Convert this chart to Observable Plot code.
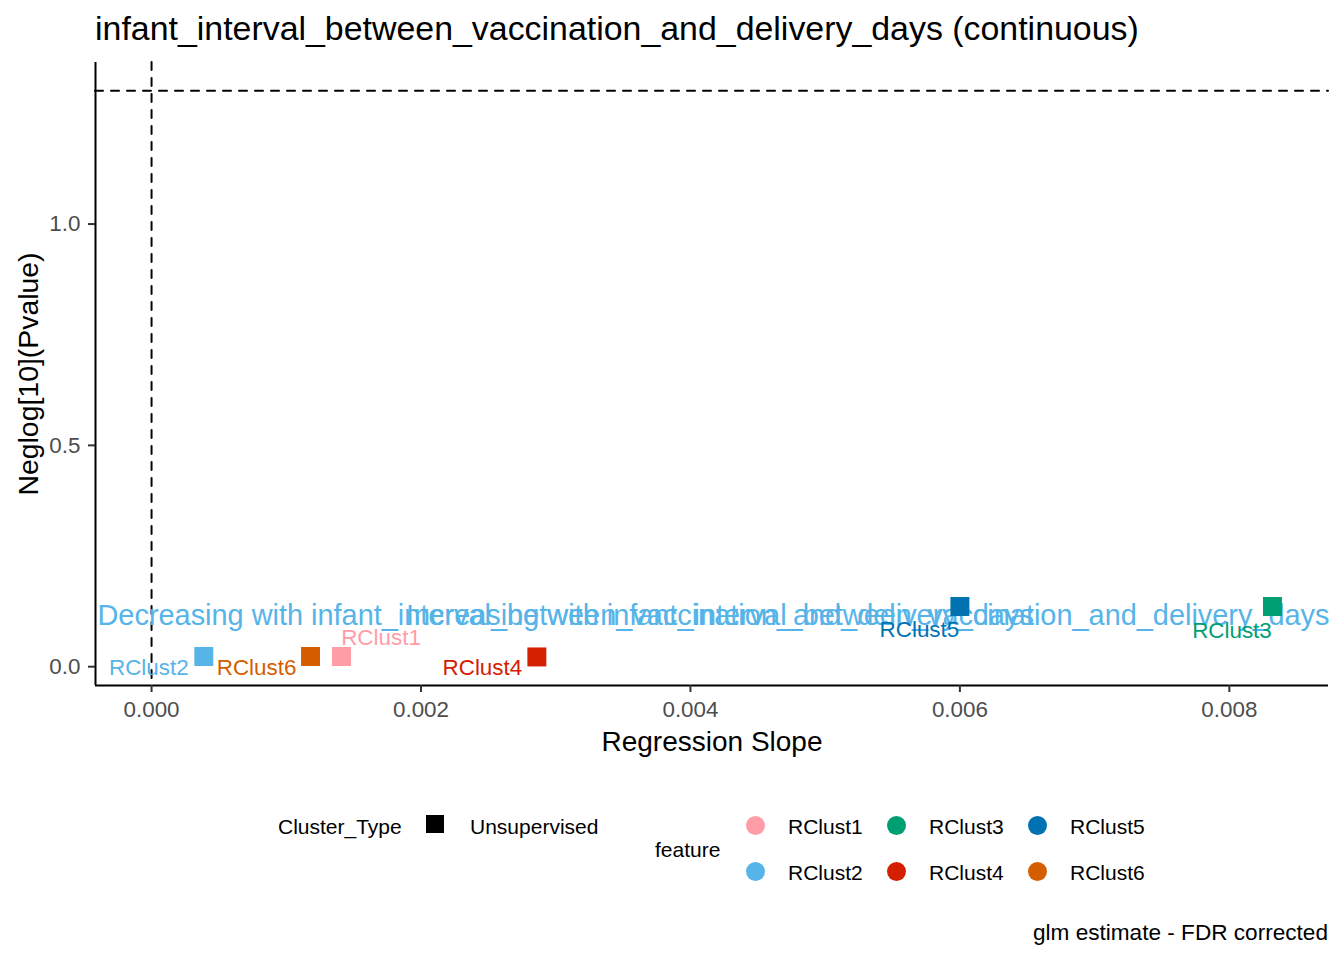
<!DOCTYPE html>
<html>
<head>
<meta charset="utf-8">
<script src="https://cdn.jsdelivr.net/npm/d3@7"></script>
<script src="https://cdn.jsdelivr.net/npm/@observablehq/plot@0.6"></script>
<style>
  html, body { margin: 0; padding: 0; background: #ffffff; }
  body { width: 1344px; height: 960px; position: relative; overflow: hidden;
         font-family: "Liberation Sans", Arial, sans-serif; color: #000; }
  .t { position: absolute; line-height: 1; white-space: nowrap; transform: translateY(-50%); }
  #chart { position: absolute; left: 0; top: 62px; }
  .sw { position: absolute; }
</style>
</head>
<body>
<div id="title" class="t" style="left:95px; top:29px; font-size:33.9px;"></div>
<div id="chart"></div>
<div id="legend"></div>
<div id="caption" class="t" style="right:16px; top:933px; font-size:22.6px;"></div>
<script>
// ---- data ----
const titleText = "infant_interval_between_vaccination_and_delivery_days (continuous)";
const xLabel = "Regression Slope";
const yLabel = "Neglog[10](Pvalue)";
const captionText = "glm estimate - FDR corrected";

const features = ["RClust1", "RClust2", "RClust3", "RClust4", "RClust5", "RClust6"];
const slopes = [0.00141, 0.000388, 0.00832, 0.00286, 0.00600, 0.00118];
const neglogP = [0.023, 0.023, 0.136, 0.022, 0.136, 0.023];
const featureColors = ["#FF9DA7", "#56B4E9", "#009E73", "#D42000", "#0072B2", "#D55E00"];

const clusterTypeTitle = "Cluster_Type";
const clusterTypes = ["Unsupervised"];
const featureLegendTitle = "feature";

const xTicks = [0, 0.002, 0.004, 0.006, 0.008];
const yTicks = [0, 0.5, 1.0];
const xDomain = [-0.000416, 0.008736];
const yDomain = [-0.0425, 1.365];

const vlineX = [0];
const hlineY = [-Math.log10(0.05)];

const directionLabels = [
  "Decreasing with infant_interval_between_vaccination_and_delivery_days",
  "Increasing with infant_interval_between_vaccination_and_delivery_days"
];
const directionLabelY = [0.114, 0.114];

// label offsets (repel-style placement, pixels)
const labelDx = { RClust1: 39.5, RClust2: -55, RClust3: -40.5, RClust4: -54.5, RClust5: -40.5, RClust6: -54 };
const labelDy = { RClust1: -18.5, RClust2: 11, RClust3: 24, RClust4: 11, RClust5: 23.5, RClust6: 11 };

// ---- build table ----
const rows = features.map((f, i) => ({ feature: f, slope: slopes[i], p: neglogP[i], type: clusterTypes[0] }));
const annRows = directionLabels.map((t, i) => ({ text: t, y: directionLabelY[i] }));

const FONT = "'Liberation Sans', Arial, sans-serif";

const labelMarks = rows.map(r => Plot.text([r], {
  x: "slope", y: "p", text: "feature", fill: "feature",
  dx: labelDx[r.feature], dy: labelDy[r.feature],
  fontSize: 22.4, textAnchor: "middle"
}));

const chart = Plot.plot({
  width: 1344,
  height: 708,
  marginTop: 0,
  marginBottom: 85,
  marginLeft: 95,
  marginRight: 16,
  style: { fontFamily: FONT, background: "#ffffff", overflow: "visible" },
  x: { domain: xDomain, label: null },
  y: { domain: yDomain, label: null },
  color: { domain: features, range: featureColors },
  marks: [
    Plot.ruleX(vlineX, { stroke: "#000", strokeWidth: 2, strokeDasharray: "8,8", strokeLinecap: "round" }),
    Plot.ruleY(hlineY, { stroke: "#000", strokeWidth: 2, strokeDasharray: "8,8", strokeLinecap: "round" }),
    Plot.text(annRows.slice(0, 1), { y: "y", text: "text", frameAnchor: "left", textAnchor: "start", dx: 2, fill: featureColors[1], fontSize: 28.9 }),
    Plot.text(annRows.slice(1, 2), { y: "y", text: "text", frameAnchor: "right", textAnchor: "end", dx: 1, fill: featureColors[1], fontSize: 28.9 }),
    Plot.dot(rows, { x: "slope", y: "p", fill: "feature", symbol: "square", r: 10.7, stroke: "none" }),
    ...labelMarks,
    Plot.ruleX([xDomain[0]], { stroke: "#000", strokeWidth: 2 }),
    Plot.ruleY([yDomain[0]], { stroke: "#000", strokeWidth: 2 }),
    Plot.axisX({ ticks: xTicks, tickFormat: d3.format(".3f"), tickSize: 7, tickPadding: 9, fontSize: 22.4, stroke: "#333333", fill: "#4D4D4D", strokeWidth: 2, label: null }),
    Plot.axisY({ ticks: yTicks, tickFormat: d3.format(".1f"), tickSize: 7, tickPadding: 8, fontSize: 22.4, stroke: "#333333", fill: "#4D4D4D", strokeWidth: 2, label: null }),
    Plot.text([xLabel], { frameAnchor: "bottom", textAnchor: "middle", dy: 65, fontSize: 28, fill: "#000" }),
    Plot.text([yLabel], { frameAnchor: "left", textAnchor: "middle", dx: -67, rotate: -90, fontSize: 28.4, fill: "#000" })
  ]
});
document.getElementById("chart").appendChild(chart);

document.getElementById("title").textContent = titleText;
document.getElementById("caption").textContent = captionText;

// ---- legend (HTML, built from the arrays) ----
const legend = document.getElementById("legend");
function addText(txt, left, cy, size) {
  const d = document.createElement("div");
  d.className = "t";
  d.style.left = left + "px";
  d.style.top = cy + "px";
  d.style.fontSize = size + "px";
  d.textContent = txt;
  legend.appendChild(d);
}
function addSwatch(cx, cy, size, color, round) {
  const d = document.createElement("div");
  d.className = "sw";
  d.style.left = (cx - size / 2) + "px";
  d.style.top = (cy - size / 2) + "px";
  d.style.width = size + "px";
  d.style.height = size + "px";
  d.style.background = color;
  if (round) d.style.borderRadius = "50%";
  legend.appendChild(d);
}
addText(clusterTypeTitle, 278, 826, 21);
clusterTypes.forEach((t, i) => {
  addSwatch(435, 824, 18, "#000", false);
  addText(t, 470, 826, 21);
});
addText(featureLegendTitle, 655, 849, 21);
const colX = [755, 896, 1037];
const rowY = [825, 871];
features.forEach((f, i) => {
  const c = Math.floor(i / 2), r = i % 2;
  addSwatch(colX[c], rowY[r], 19, featureColors[i], true);
  addText(f, colX[c] + 33, rowY[r] + 1, 21);
});
</script>
</body>
</html>
